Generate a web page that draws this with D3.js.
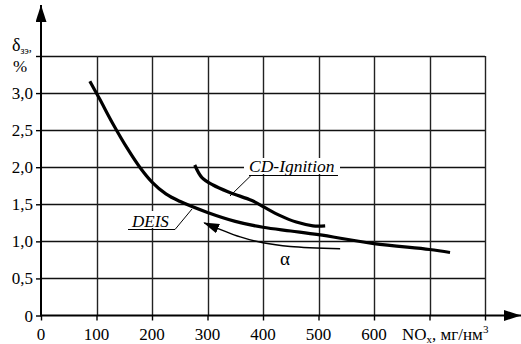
<!DOCTYPE html>
<html>
<head>
<meta charset="utf-8">
<script src="https://cdn.jsdelivr.net/npm/d3@7"></script>
<style>
  body { margin: 0; background: #fff; }
  svg { display: block; }
  text { font-family: "Liberation Serif", "DejaVu Serif", "Times New Roman", serif; }
</style>
</head>
<body>
<div id="chart"></div>
<script>
// values
const xTicks = [0, 100, 200, 300, 400, 500, 600, 700, 800];
const xTickLabels = ["0", "100", "200", "300", "400", "500", "600"];
const yTicks = [0, 0.5, 1.0, 1.5, 2.0, 2.5, 3.0, 3.5];
const yTickLabels = ["0", "0,5", "1,0", "1,5", "2,0", "2,5", "3,0"];

const deisX = [88, 105, 130, 155, 178, 200, 225, 250, 300, 350, 400, 450, 500, 600, 700, 737];
const deisY = [3.16, 2.93, 2.58, 2.26, 2.0, 1.8, 1.64, 1.54, 1.39, 1.27, 1.19, 1.14, 1.09, 0.97, 0.89, 0.85];

const cdX = [277, 290, 310, 340, 380, 400, 430, 460, 490, 512];
const cdY = [2.03, 1.86, 1.76, 1.66, 1.55, 1.47, 1.35, 1.26, 1.21, 1.21];

const alphaX = [539, 449, 400, 359, 294];
const alphaY = [0.90, 0.93, 0.98, 1.06, 1.25];

const width = 521, height = 344;
const serif = '"Liberation Serif", "DejaVu Serif", serif';

const svg = d3.select("#chart")
    .append("svg")
    .attr("width", width)
    .attr("height", height)
    .attr("font-family", serif);

const x = d3.scaleLinear().domain([0, 800]).range([41, 485]);
const y = d3.scaleLinear().domain([0, 3.5]).range([315.5, 56]);

// grid
svg.append("g")
    .selectAll("line")
    .data(yTicks.slice(1))
    .enter().append("line")
    .attr("x1", x(0)).attr("x2", x(800))
    .attr("y1", d => Math.round(y(d)) + 0.5).attr("y2", d => Math.round(y(d)) + 0.5)
    .style("stroke", "#111").style("stroke-width", 1.3);

svg.append("g")
    .selectAll("line")
    .data(xTicks.slice(1))
    .enter().append("line")
    .attr("x1", d => Math.round(x(d)) + 0.5).attr("x2", d => Math.round(x(d)) + 0.5)
    .attr("y1", y(3.5)).attr("y2", y(0))
    .style("stroke", "#222").style("stroke-width", 1.4);

// arrow markers
const defs = svg.append("defs");
defs.append("marker")
    .attr("id", "axisArrow")
    .attr("viewBox", "0 0 17 11")
    .attr("refX", 17).attr("refY", 5.5)
    .attr("markerWidth", 17).attr("markerHeight", 11)
    .attr("markerUnits", "userSpaceOnUse")
    .attr("orient", "auto")
    .append("path").attr("d", "M0,0 L17,5.5 L0,11 Z").style("fill", "#000");

defs.append("marker")
    .attr("id", "alphaArrow")
    .attr("viewBox", "0 0 16 10")
    .attr("refX", 15).attr("refY", 5)
    .attr("markerWidth", 16).attr("markerHeight", 10)
    .attr("markerUnits", "userSpaceOnUse")
    .attr("orient", "auto")
    .append("path").attr("d", "M0,0 L16,5 L0,10 Z").style("fill", "#000");

const xAxis = d3.axisBottom(x).tickValues(xTicks).tickSize(5).tickFormat("");
svg.append("g")
    .attr("transform", `translate(0, ${y(0)})`)
    .call(xAxis)
    .call(g => g.select(".domain").remove())
    .call(g => g.selectAll(".tick line").style("stroke", "#000").style("stroke-width", 1.4));

const yAxis = d3.axisLeft(y).tickValues(yTicks).tickSize(5).tickFormat("");
svg.append("g")
    .attr("transform", `translate(${x(0)}, 0)`)
    .call(yAxis)
    .call(g => g.select(".domain").remove())
    .call(g => g.selectAll(".tick line").style("stroke", "#000").style("stroke-width", 1.4));

svg.append("line")
    .attr("x1", x(0)).attr("x2", 521)
    .attr("y1", y(0)).attr("y2", y(0))
    .style("stroke", "#000").style("stroke-width", 2)
    .attr("marker-end", "url(#axisArrow)");

svg.append("line")
    .attr("x1", x(0)).attr("x2", x(0))
    .attr("y1", y(0) + 1).attr("y2", 5)
    .style("stroke", "#000").style("stroke-width", 2)
    .attr("marker-end", "url(#axisArrow)");

// tick labels
svg.append("g")
    .selectAll("text")
    .data(xTickLabels)
    .enter().append("text")
    .attr("x", (d, i) => x(xTicks[i]))
    .attr("y", 340)
    .attr("text-anchor", "middle")
    .style("font-size", "17px")
    .text(d => d);

svg.append("g")
    .selectAll("text")
    .data(yTickLabels)
    .enter().append("text")
    .attr("x", 33)
    .attr("y", (d, i) => y(yTicks[i]) + 6)
    .attr("text-anchor", "end")
    .style("font-size", "17px")
    .text(d => d);

// axis titles
const xt = svg.append("text")
    .attr("x", 402).attr("y", 340)
    .style("font-size", "17px");
xt.append("tspan").text("NO");
xt.append("tspan").attr("dy", 3).style("font-size", "11px").text("x");
xt.append("tspan").attr("dy", -3).text(", мг/нм");
xt.append("tspan").attr("dy", -7).style("font-size", "11px").text("3");

const yt = svg.append("text")
    .attr("x", 12).attr("y", 51)
    .style("font-size", "18px");
yt.append("tspan").text("δ");
yt.append("tspan").attr("dy", 3).style("font-size", "10px").text("зэ");
yt.append("tspan").attr("dy", -3).style("font-size", "12px").text(",");

svg.append("text")
    .attr("x", 13).attr("y", 72)
    .style("font-size", "17px")
    .text("%");

// curves
const line = d3.line()
    .x(d => x(d[0]))
    .y(d => y(d[1]))
    .curve(d3.curveCatmullRom.alpha(0.5));

svg.append("path")
    .datum(deisX.map((d, i) => [d, deisY[i]]))
    .attr("d", line)
    .style("fill", "none").style("stroke", "#000").style("stroke-width", 3.2);

svg.append("path")
    .datum(cdX.map((d, i) => [d, cdY[i]]))
    .attr("d", line)
    .style("fill", "none").style("stroke", "#000").style("stroke-width", 3.2);

svg.append("path")
    .datum(alphaX.map((d, i) => [d, alphaY[i]]))
    .attr("d", line)
    .style("fill", "none").style("stroke", "#000").style("stroke-width", 1.5)
    .attr("marker-end", "url(#alphaArrow)");

// labels with leaders
svg.append("rect")
    .attr("x", 244).attr("y", 158).attr("width", 96).attr("height", 16)
    .style("fill", "#fff");
svg.append("text")
    .attr("x", 249).attr("y", 172)
    .style("font-size", "17.5px").style("font-style", "italic")
    .text("CD-Ignition");
svg.append("line")
    .attr("x1", 249).attr("x2", 338).attr("y1", 175.5).attr("y2", 175.5)
    .style("stroke", "#000").style("stroke-width", 1);
svg.append("line")
    .attr("x1", 251).attr("x2", 230).attr("y1", 175.5).attr("y2", 196)
    .style("stroke", "#000").style("stroke-width", 1);

svg.append("rect")
    .attr("x", 128).attr("y", 211).attr("width", 46).attr("height", 17)
    .style("fill", "#fff");
svg.append("text")
    .attr("x", 132).attr("y", 227)
    .style("font-size", "17px").style("font-style", "italic")
    .text("DEIS");
svg.append("line")
    .attr("x1", 128).attr("x2", 175).attr("y1", 229.5).attr("y2", 229.5)
    .style("stroke", "#000").style("stroke-width", 1);
svg.append("line")
    .attr("x1", 175).attr("x2", 192).attr("y1", 229.5).attr("y2", 209)
    .style("stroke", "#000").style("stroke-width", 1);

svg.append("text")
    .attr("x", 280).attr("y", 265)
    .style("font-size", "19px")
    .text("α");
</script>
</body>
</html>
